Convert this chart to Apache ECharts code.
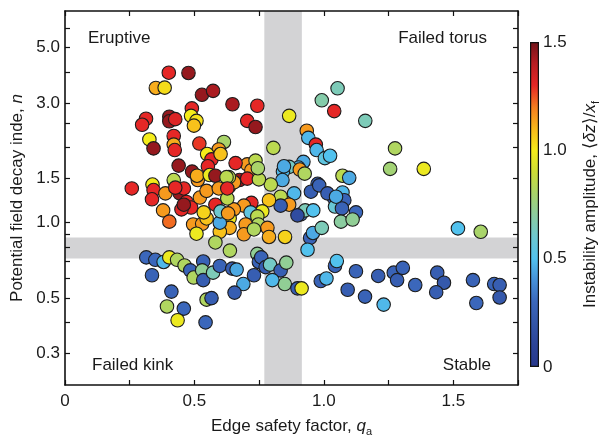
<!DOCTYPE html>
<html>
<head>
<meta charset="utf-8">
<title>Torus instability regimes</title>
<script src="https://cdn.jsdelivr.net/npm/echarts@6/dist/echarts.min.js"></script>
<style>
  html, body { margin: 0; padding: 0; background: #fff; }
  #chart { width: 602px; height: 442px; }
</style>
</head>
<body>
<div id="chart"></div>
<script>
// each row: [edge safety factor q_a, decay index n, instability amplitude]
const upperLeft = [
  [0.401, 3.97, 1.30], [0.477, 3.96, 1.45], [0.351, 3.45, 1.12], [0.385, 3.46, 1.03],
  [0.529, 3.24, 1.45], [0.572, 3.36, 1.42], [0.647, 2.97, 1.42], [0.490, 2.86, 1.30],
  [0.487, 2.67, 1.00], [0.508, 2.55, 1.02], [0.498, 2.44, 1.08], [0.313, 2.60, 1.30],
  [0.298, 2.46, 1.30], [0.403, 2.65, 1.45], [0.403, 2.54, 1.45], [0.426, 2.59, 1.32],
  [0.326, 2.15, 1.00], [0.342, 1.98, 1.45], [0.420, 2.22, 1.30], [0.420, 2.05, 1.12],
  [0.424, 1.95, 1.30], [0.519, 2.07, 1.28], [0.614, 2.10, 0.80], [0.594, 1.96, 1.15],
  [0.549, 1.88, 1.00], [0.566, 1.79, 1.30], [0.601, 1.88, 1.08], [0.439, 1.69, 1.45],
  [0.491, 1.60, 1.45], [0.704, 2.55, 1.30], [0.736, 2.41, 1.45], [0.743, 2.93, 1.30],
  [0.805, 1.99, 0.85], [0.866, 2.67, 0.98], [0.704, 1.71, 1.15], [0.720, 1.62, 1.15],
  [0.659, 1.73, 1.30], [0.736, 1.77, 0.85], [0.552, 1.68, 1.30], [0.513, 1.48, 1.15]
];
const upperRight = [
  [0.992, 3.08, 0.68], [1.053, 3.44, 0.65], [1.040, 2.79, 1.30], [1.160, 2.55, 0.65],
  [0.934, 2.33, 1.15], [0.940, 2.18, 0.48], [0.969, 2.05, 1.30], [0.972, 1.95, 0.48],
  [1.004, 1.81, 0.55], [1.024, 1.85, 0.50], [1.275, 1.98, 0.82], [1.256, 1.64, 0.78],
  [1.386, 1.64, 0.98], [1.072, 1.54, 0.85], [1.098, 1.51, 0.45], [0.921, 1.75, 0.45],
  [0.902, 1.66, 0.45], [0.866, 1.67, 0.62], [0.842, 1.60, 0.48], [0.907, 1.63, 1.15],
  [0.926, 1.57, 0.82], [0.840, 1.48, 0.45], [0.795, 1.42, 0.85], [0.976, 1.43, 0.25],
  [1.072, 1.32, 0.48], [1.040, 1.25, 0.28], [1.079, 1.23, 0.28], [1.043, 1.16, 0.58],
  [1.070, 1.14, 0.28], [1.124, 1.10, 0.30], [1.066, 1.01, 0.70], [1.111, 1.03, 0.72],
  [1.518, 0.949, 0.50], [1.606, 0.92, 0.80], [0.950, 1.33, 0.25], [0.982, 1.41, 0.28],
  [1.014, 1.31, 0.25], [1.047, 1.27, 0.45], [0.911, 1.08, 0.28], [0.928, 1.12, 0.65],
  [0.959, 1.12, 0.50], [0.898, 1.07, 0.15], [0.947, 0.87, 0.28], [0.958, 0.91, 0.45],
  [0.937, 0.78, 0.50], [0.992, 0.954, 0.65], [0.846, 1.68, 0.45], [0.885, 1.31, 0.48],
  [0.853, 1.20, 1.15]
];
const middle = [
  [0.674, 1.48, 1.45], [0.704, 1.50, 1.30], [0.633, 1.39, 1.30], [0.653, 1.45, 1.15],
  [0.633, 1.52, 0.85], [0.749, 1.49, 0.85], [0.745, 1.65, 0.80], [0.833, 1.27, 0.85],
  [0.866, 1.18, 1.15], [0.833, 1.17, 0.25], [0.788, 1.23, 1.08], [0.762, 1.11, 0.98],
  [0.720, 1.20, 1.30], [0.691, 1.17, 1.15], [0.652, 1.13, 1.15], [0.627, 1.25, 0.85],
  [0.717, 1.10, 0.55], [0.743, 1.06, 0.85], [0.747, 0.984, 0.82], [0.782, 0.954, 1.15],
  [0.788, 0.877, 1.12], [0.850, 0.877, 1.05], [0.698, 0.984, 1.15], [0.691, 0.899, 1.15],
  [0.730, 0.94, 0.82], [0.636, 1.04, 0.98], [0.636, 0.954, 1.12]
];
const leftMiddle = [
  [0.258, 1.37, 1.30], [0.338, 1.42, 1.00], [0.342, 1.35, 1.30], [0.336, 1.24, 1.30],
  [0.388, 1.31, 1.15], [0.420, 1.48, 0.85], [0.510, 1.54, 1.12], [0.559, 1.55, 0.98],
  [0.581, 1.54, 1.45], [0.624, 1.52, 0.85], [0.443, 1.31, 1.45], [0.459, 1.37, 1.30],
  [0.426, 1.38, 1.30], [0.469, 1.21, 1.30], [0.487, 1.15, 1.30], [0.450, 1.13, 1.30],
  [0.459, 1.18, 1.45], [0.521, 1.26, 1.15], [0.547, 1.34, 1.15], [0.594, 1.37, 1.15],
  [0.627, 1.37, 1.30], [0.379, 1.12, 1.15], [0.403, 1.01, 1.22], [0.495, 0.984, 1.15],
  [0.530, 0.99, 1.15], [0.547, 1.04, 1.08], [0.536, 1.10, 1.05], [0.508, 0.904, 0.98],
  [0.581, 1.18, 1.30], [0.598, 0.92, 1.08], [0.598, 1.00, 0.45], [0.601, 1.11, 0.60],
  [0.630, 1.09, 1.15], [0.581, 0.834, 0.82], [0.637, 0.774, 0.82]
];
const lower = [
  [0.314, 0.727, 0.30], [0.349, 0.711, 0.30], [0.381, 0.697, 0.48], [0.403, 0.727, 0.98],
  [0.433, 0.711, 0.82], [0.462, 0.675, 0.82], [0.484, 0.645, 0.28], [0.497, 0.604, 0.82],
  [0.534, 0.700, 0.28], [0.530, 0.645, 0.72], [0.534, 0.590, 0.25], [0.572, 0.632, 0.65],
  [0.598, 0.672, 0.28], [0.646, 0.656, 0.25], [0.663, 0.650, 0.45], [0.689, 0.569, 0.45],
  [0.655, 0.526, 0.25], [0.336, 0.617, 0.28], [0.411, 0.531, 0.28], [0.394, 0.463, 0.82],
  [0.459, 0.454, 0.30], [0.435, 0.408, 0.98], [0.543, 0.400, 0.30], [0.547, 0.493, 0.82],
  [0.566, 0.500, 0.25], [0.730, 0.617, 0.25], [0.743, 0.751, 0.72], [0.749, 0.697, 0.28],
  [0.758, 0.727, 0.28], [0.775, 0.665, 0.25], [0.792, 0.680, 0.62], [0.833, 0.645, 0.25],
  [0.855, 0.693, 0.72], [0.849, 0.569, 0.72], [0.801, 0.590, 0.48], [0.898, 0.547, 0.25],
  [0.914, 0.547, 0.98], [0.988, 0.585, 0.28], [1.010, 0.599, 0.48], [1.043, 0.672, 0.28],
  [1.050, 0.703, 0.50], [1.092, 0.540, 0.25], [1.124, 0.640, 0.28], [1.159, 0.507, 0.28],
  [1.210, 0.613, 0.25], [1.231, 0.471, 0.48], [1.270, 0.632, 0.28], [1.283, 0.590, 0.25],
  [1.305, 0.660, 0.28], [1.353, 0.564, 0.30], [1.438, 0.632, 0.25], [1.464, 0.576, 0.22],
  [1.434, 0.528, 0.25], [1.576, 0.590, 0.28], [1.589, 0.478, 0.30], [1.658, 0.569, 0.28],
  [1.679, 0.564, 0.25], [1.679, 0.503, 0.22]
];

const xLabelValues = [0, 0.5, 1.0, 1.5];
const xTickValues = [0, 0.25, 0.5, 0.75, 1.0, 1.25, 1.5, 1.75];
const yLabelValues = [0.3, 0.5, 1.0, 1.5, 3.0, 5.0];
const yTickValues = [0.3, 0.4, 0.5, 0.6, 0.7, 0.8, 0.9, 1.0, 1.5, 2.0, 2.5, 3.0, 4.0, 5.0, 6.0];
const qBand = [0.77, 0.915];
const nBand = [0.72, 0.873];
const xMin = 0, xMax = 1.75;
const yMin = 0.225, yMax = 7;
const ampMin = 0, ampMax = 1.5;
const ampColors = [
  '#27378b', '#2c4398', '#3355a8', '#3b67bb', '#4690d8', '#52c2ee', '#6ec8d0', '#8bcda0',
  '#a9d46a', '#cddd36', '#f4ec1a', '#f8b81b', '#f47c20', '#e52726', '#b81d22', '#71141a'
];

const font = '"Liberation Sans", Arial, Helvetica, sans-serif';
const ink = '#1a1a1a';
const fs = 17;
const lg = Math.log10;

const points = [].concat(upperLeft, upperRight, middle, leftMiddle, lower)
  .map(p => [p[0], lg(p[1]), p[2]]);

const frameLine = { show: true, onZero: false, lineStyle: { color: '#111', width: 1.6 } };
const tickStyle = { color: '#111', width: 1.2 };
const labelStyle = { fontSize: fs, color: ink, fontFamily: font };
const nameRich = {
  i: { fontStyle: 'italic', fontSize: fs, fontFamily: font, color: ink },
  s: { fontSize: 11, fontFamily: font, color: ink, verticalAlign: 'bottom', padding: [10, 0, 0, 0] }
};

const chart = echarts.init(document.getElementById('chart'));

chart.setOption({
  animation: false,
  backgroundColor: '#fff',
  grid: [
    { left: 65, top: 11, width: 453, height: 381 },
    { left: 530, top: 42, width: 19, height: 325 }
  ],
  xAxis: [
    {
      gridIndex: 0, type: 'value', min: xMin, max: xMax, position: 'bottom', z: 10,
      axisLine: frameLine,
      axisTick: { inside: true, length: 5, customValues: xTickValues, lineStyle: tickStyle },
      axisLabel: Object.assign({ customValues: xLabelValues, margin: 8,
        formatter: v => v === 0 ? '0' : v.toFixed(1) }, labelStyle),
      splitLine: { show: false },
      name: 'Edge safety factor, {i|q}{s|a}',
      nameLocation: 'middle', nameGap: 31,
      nameTextStyle: Object.assign({ rich: nameRich }, labelStyle)
    },
    {
      gridIndex: 0, type: 'value', min: xMin, max: xMax, position: 'top', z: 10,
      axisLine: frameLine,
      axisTick: { inside: true, length: 5, customValues: xTickValues, lineStyle: tickStyle },
      axisLabel: { show: false },
      splitLine: { show: false }
    },
    {
      gridIndex: 1, type: 'category', data: [''], show: false
    }
  ],
  yAxis: [
    {
      gridIndex: 0, type: 'value', min: lg(yMin), max: lg(yMax), position: 'left', z: 10,
      axisLine: frameLine,
      axisTick: { inside: true, length: 5, customValues: yTickValues.map(lg), lineStyle: tickStyle },
      axisLabel: Object.assign({ customValues: yLabelValues.map(lg), margin: 5,
        formatter: v => Math.pow(10, v).toFixed(1) }, labelStyle),
      splitLine: { show: false },
      name: 'Potential field decay inde, {i|n}',
      nameLocation: 'middle', nameRotate: 90, nameGap: 38,
      nameTextStyle: Object.assign({ rich: nameRich }, labelStyle)
    },
    {
      gridIndex: 0, type: 'value', min: lg(yMin), max: lg(yMax), position: 'right', z: 10,
      axisLine: frameLine,
      axisTick: { inside: true, length: 5, customValues: yTickValues.map(lg), lineStyle: tickStyle },
      axisLabel: { show: false },
      splitLine: { show: false }
    },
    {
      gridIndex: 1, type: 'value', min: ampMin, max: ampMax, interval: 0.5, position: 'right', z: 10,
      axisLine: { show: false },
      axisTick: { inside: true, length: 3, lineStyle: tickStyle },
      axisLabel: Object.assign({ margin: 4, formatter: v => v === 0 ? '0' : v.toFixed(1) }, labelStyle),
      splitLine: { show: false },
      name: 'Instability amplitude, ⟨{i|δz}⟩/{i|x}{s|f}',
      nameLocation: 'middle', nameRotate: 90, nameGap: 41,
      nameTextStyle: Object.assign({ rich: nameRich }, labelStyle)
    },
    {
      gridIndex: 1, type: 'value', min: ampMin, max: ampMax, interval: 0.5, position: 'left', z: 10,
      axisLine: { show: false },
      axisTick: { inside: true, length: 3, lineStyle: tickStyle },
      axisLabel: { show: false },
      splitLine: { show: false }
    }
  ],
  visualMap: {
    type: 'continuous', show: false, seriesIndex: 0, dimension: 2,
    min: ampMin, max: ampMax,
    inRange: { color: ampColors }
  },
  series: [
    {
      type: 'scatter', xAxisIndex: 0, yAxisIndex: 0, z: 3,
      symbolSize: 13.5,
      itemStyle: { borderColor: '#1c1c1c', borderWidth: 1.1, opacity: 1 },
      data: points
    },
    {
      type: 'scatter', xAxisIndex: 0, yAxisIndex: 0, z: 1, data: [],
      markArea: {
        silent: true,
        itemStyle: { color: '#d3d3d5', opacity: 1 },
        data: [
          [{ xAxis: qBand[0], yAxis: lg(yMin) }, { xAxis: qBand[1], yAxis: lg(yMax) }],
          [{ xAxis: xMin, yAxis: lg(nBand[0]) }, { xAxis: xMax, yAxis: lg(nBand[1]) }]
        ]
      }
    },
    {
      type: 'bar', xAxisIndex: 2, yAxisIndex: 2, silent: true, z: 2,
      barWidth: '100%',
      itemStyle: {
        borderColor: '#111', borderWidth: 1.2,
        color: new echarts.graphic.LinearGradient(0, 1, 0, 0,
          ampColors.map((c, i) => ({ offset: i / (ampColors.length - 1), color: c })))
      },
      data: [ampMax]
    }
  ],
  graphic: [
    { type: 'text', left: 88, top: 30, style: { text: 'Eruptive', fontSize: fs, fontFamily: font, fill: ink } },
    { type: 'text', right: 115, top: 30, style: { text: 'Failed torus', fontSize: fs, fontFamily: font, fill: ink } },
    { type: 'text', left: 92, top: 357, style: { text: 'Failed kink', fontSize: fs, fontFamily: font, fill: ink } },
    { type: 'text', right: 111, top: 357, style: { text: 'Stable', fontSize: fs, fontFamily: font, fill: ink } }
  ]
});
</script>
</body>
</html>
